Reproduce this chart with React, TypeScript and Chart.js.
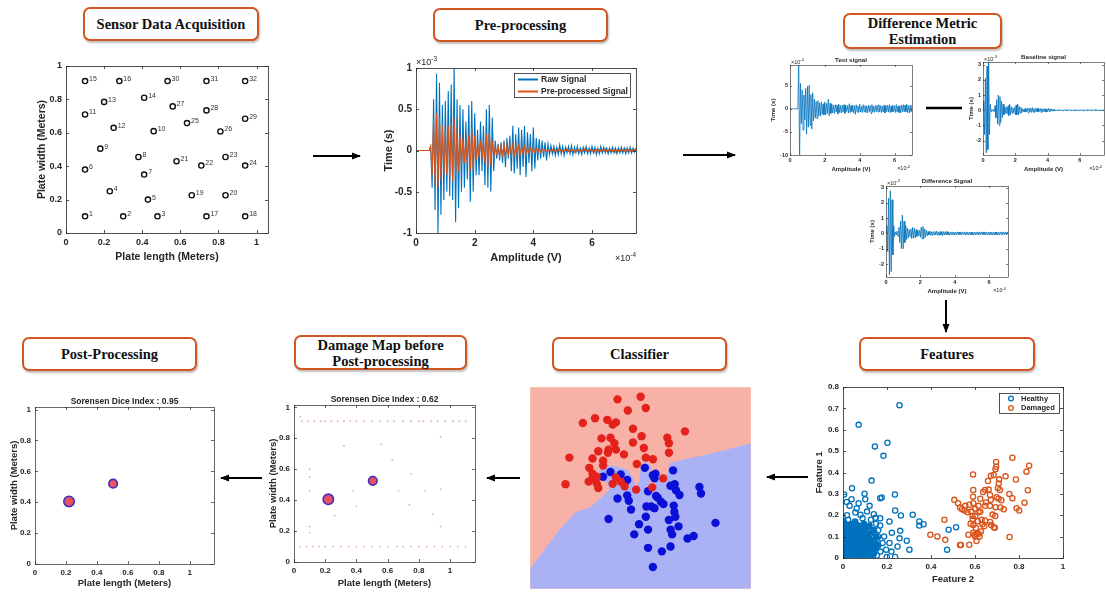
import React, { useEffect, useRef } from "react";
import { Chart, registerables } from "chart.js";
Chart.register(...registerables);

const SANS = "'Liberation Sans', Arial, sans-serif";
const SERIF = "'Liberation Serif', 'Times New Roman', serif";
const AX = "#262626";
const MBLUE = "#0072BD";
const MORANGE = "#D95319";

// ---------------- Sensor layout ----------------
const sensorIds = ["1","2","3","4","5","6","7","8","9","10","11","12","13","14","15","16","17","18","19","20","21","22","23","24","25","26","27","28","29","30","31","32"];
const sensorX = [0.10,0.30,0.48,0.23,0.43,0.10,0.41,0.38,0.18,0.46,0.10,0.25,0.20,0.41,0.10,0.28,0.737,0.94,0.66,0.837,0.58,0.71,0.837,0.94,0.635,0.81,0.56,0.737,0.94,0.533,0.737,0.94];
const sensorY = [0.10,0.10,0.10,0.25,0.20,0.38,0.35,0.455,0.505,0.61,0.71,0.63,0.785,0.81,0.91,0.91,0.10,0.10,0.226,0.226,0.43,0.404,0.455,0.404,0.658,0.608,0.758,0.734,0.684,0.91,0.91,0.91];

// ---------------- Pre-processing signals (x10^-3), sampled every 0.05 (x10^-4) ----------------
const preDt = 0.05;
const rawSignal = [
  0,0,0,0,0,0,0,0,0,0,
  0.05,-0.45,0.62,-0.72,0.93,-1.0,0.82,-0.78,0.55,-0.6,
  0.6,-0.5,0.72,-0.55,0.8,-0.6,1.0,-0.87,0.62,-0.7,
  0.55,-0.5,0.5,-0.45,0.35,-0.35,0.55,-0.62,0.6,-0.5,
  0.45,-0.3,0.25,-0.3,0.35,-0.25,0.3,-0.42,0.5,-0.45,
  0.55,-0.5,0.4,-0.25,0.12,-0.1,0.08,-0.12,0.1,-0.15,
  0.12,-0.2,0.15,-0.1,0.18,-0.25,0.3,-0.28,0.2,-0.22,
  0.28,-0.3,0.25,-0.2,0.3,-0.32,0.22,-0.15,0.2,-0.25,
  0.28,-0.22,0.15,-0.12,0.14,-0.1,0.12,-0.08,0.1,-0.12,
  0.08,
  -0.05,0.06,-0.04,0.05,-0.06,0.04,-0.05,0.07,-0.04,0.05,
  -0.06,0.04,-0.03,0.05,-0.04,0.06,-0.05,0.04,-0.03,0.05,
  -0.04,0.03,-0.05,0.04,-0.03,0.05,-0.04,0.03,-0.04,0.05,
  -0.03,0.04,-0.05,0.03,-0.04,0.05,-0.03,0.04,-0.03,0.03,
  -0.04,0.03,-0.03,0.04,-0.03,0.03,-0.04,0.03,-0.03,0.04,
  -0.03,0.03,-0.04,0.03,-0.03,0.04,-0.03,0.03,-0.02,0.03,
];
const processedSignal = [
  0,0,0,0,0,0,0,0,0,0,
  0.05,-0.3,0.38,-0.42,0.45,-0.45,0.4,-0.35,0.3,-0.28,
  0.25,-0.3,0.3,-0.32,0.35,-0.38,0.4,-0.3,0.28,-0.25,
  0.2,-0.18,0.15,-0.15,0.12,-0.15,0.2,-0.25,0.28,-0.22,
  0.18,-0.12,0.1,-0.08,0.12,-0.1,0.12,-0.15,0.2,-0.2,
  0.22,-0.18,0.12,-0.08,0.05,-0.04,0.05,-0.06,0.05,-0.06,
  0.08,-0.07,0.06,-0.05,0.06,-0.05,0.07,-0.06,0.05,-0.05,
  0.06,-0.04,0.05,-0.04,0.05,-0.04,0.03,-0.03,0.04,-0.03,
  0.03,-0.02,0.02,-0.02,0.02,-0.02,0.02,-0.01,0.01,-0.01,
  0.01,
  0.01,-0.01,0.01,-0.02,0.01,-0.01,0.02,-0.01,0.01,-0.01,
  0.01,-0.01,0.02,-0.01,0.01,-0.01,0.01,-0.02,0.01,-0.01,
  0.01,-0.01,0.01,-0.01,0.02,-0.01,0.01,-0.01,0.01,-0.01,
  0.01,-0.02,0.01,-0.01,0.01,-0.01,0.01,-0.01,0.02,-0.01,
  0.01,-0.01,0.01,-0.01,0.01,-0.02,0.01,-0.01,0.01,-0.01,
  0.01,-0.01,0.02,-0.01,0.01,-0.01,0.01,-0.01,0.01,-0.01,
];

// ---------------- Difference metric signals ----------------
const testSignal = [ // x10^-4
  0,0,0,0,0,0,0,0,0,0,
  11,-11,5.5,-3.2,4.1,-4.6,3.0,-2.4,4.4,-5.5,
  4.9,-4.0,5.1,-3.6,3.1,-4.4,3.5,-2.6,2.1,-2.0,
  1.6,-2.1,1.8,-1.5,1.3,-1.6,1.5,-1.2,1.1,-1.3,
  1.5,-1.3,1.2,-1.0,2.1,-1.5,1.2,-1.0,1.0,-0.9,
  0.8,-1.0,0.9,-0.7,0.8,-1.1,1.0,-0.8,0.7,-0.9,
  0.8,-0.7,0.9,-1.0,0.8,-0.6,0.7,-0.9,1.1,-0.8,
  0.7,-0.6,0.8,-0.9,0.7,-1.2,0.9,-0.7,0.6,-0.8,
  1.0,-0.7,0.6,-0.8,0.9,-0.6,0.7,-0.8,0.6,-0.9,
  0.8,-0.6,0.7,-1.0,0.9,-0.7,0.6,-0.8,0.7,-0.6,
  0.8,-0.7,0.9,-0.6,0.7,-0.8,0.6,-0.7,0.8,-0.9,
  0.7,-0.6,0.8,-0.7,0.9,-0.8,0.6,-0.7,0.8,-0.6,
  0.7,-0.8,0.9,-0.7,0.6,-0.8,0.7,-0.9,0.8,-0.6,
  0.9,-0.7,0.8,-0.6,1.0,-0.8,0.7,-0.9,0.8,-0.7,
  0.9,
];
const baselineSignal = [ // x10^-3
  0,0.6,-1.6,2.1,-2.8,2.9,-2.6,3.2,-1.6,0.4,
  -0.1,0.05,-0.05,0.05,-0.1,0.3,-0.5,0.7,-0.9,1.0,
  -1.0,0.9,-0.8,0.6,-0.5,0.4,-0.3,0.25,-0.2,0.2,
  -0.25,0.3,-0.35,0.4,-0.3,0.25,-0.2,0.15,-0.15,0.2,
  -0.3,0.35,-0.3,0.4,-0.3,0.25,-0.2,0.2,-0.15,0.1,
  -0.1,0.08,-0.12,0.15,-0.1,0.12,-0.18,0.15,-0.1,0.12,
  -0.15,0.18,-0.12,0.1,-0.15,0.12,-0.1,0.14,-0.12,0.1,
  -0.08,0.12,-0.14,0.1,-0.12,0.1,-0.08,0.1,-0.12,0.08,
  -0.1,0.12,-0.08,0.1,-0.07,0.08,-0.06,0.05,-0.05,0.04,
  -0.04,0.03,-0.04,0.03,-0.03,0.04,-0.03,0.03,-0.04,0.03,
  -0.03,0.04,-0.03,0.03,-0.04,0.03,-0.03,0.04,-0.03,0.03,
  -0.04,0.03,-0.03,0.03,-0.04,0.03,-0.03,0.04,-0.03,0.03,
  -0.03,0.04,-0.03,0.03,-0.04,0.03,-0.03,0.03,-0.04,0.03,
  -0.03,0.03,-0.04,0.03,-0.03,0.04,-0.03,0.03,-0.03,0.04,
  -0.03,0.03,-0.04,0.03,-0.03,0.03,-0.04,0.03,-0.03,0.03,
  -0.03,
];
const differenceSignal = [ // x10^-3
  0,0.5,-1.2,2.3,-2.7,2.8,-2.5,2.2,-1.4,0.5,
  -0.2,0.1,-0.1,0.15,-0.2,0.4,-0.6,0.8,-1.0,1.2,
  -1.0,0.8,-0.6,0.5,-0.4,0.35,-0.3,0.25,-0.2,0.3,
  -0.35,0.4,-0.3,0.35,-0.3,0.25,-0.2,0.2,-0.15,0.2,
  -0.25,0.4,-0.35,0.45,-0.35,0.3,-0.25,0.2,-0.15,0.12,
  -0.1,0.15,-0.12,0.1,-0.15,0.12,-0.1,0.12,-0.1,0.15,
  -0.12,0.1,-0.14,0.12,-0.1,0.12,-0.15,0.12,-0.1,0.12,
  -0.1,0.12,-0.1,0.08,-0.12,0.1,-0.08,0.1,-0.1,0.08,
  -0.1,0.08,-0.09,0.1,-0.08,0.09,-0.1,0.08,-0.09,0.1,
  -0.08,0.09,-0.08,0.1,-0.09,0.08,-0.1,0.09,-0.08,0.09,
  -0.1,0.08,-0.09,0.08,-0.1,0.09,-0.08,0.1,-0.09,0.08,
  -0.09,0.1,-0.08,0.09,-0.08,0.1,-0.09,0.08,-0.1,0.09,
  -0.08,0.09,-0.1,0.08,-0.09,0.08,-0.1,0.09,-0.08,0.1,
  -0.09,0.08,-0.1,0.09,-0.08,0.09,-0.08,0.1,-0.09,0.08,
  -0.09,0.1,-0.08,
];

// ---------------- Features ----------------
// dense healthy core
const healthyCoreX = [
  0.005,0.02,0.04,0.06,0.08,0.10,0.12,0.13,0.01,0.03,0.05,0.07,0.09,0.11,0.125,
  0.004,0.022,0.042,0.062,0.082,0.10,0.118,0.135,0.012,0.032,0.052,0.072,0.092,0.112,0.128,
  0.003,0.024,0.044,0.064,0.084,0.104,0.122,0.012,0.034,0.054,0.074,0.094,0.114,0.13,
  0.005,0.025,0.045,0.065,0.085,0.105,0.015,0.04,0.07,0.095,0.12,0.0,0.055,
  0.14,0.15,0.145,0.15,0.14,0.16,
];
const healthyCoreY = [
  0.01,0.005,0.008,0.004,0.01,0.006,0.008,0.012,0.03,0.025,0.03,0.028,0.032,0.027,0.035,
  0.05,0.052,0.048,0.055,0.05,0.053,0.05,0.055,0.072,0.07,0.075,0.07,0.074,0.07,0.078,
  0.092,0.095,0.09,0.096,0.092,0.095,0.09,0.115,0.112,0.118,0.113,0.117,0.112,0.12,
  0.135,0.138,0.133,0.14,0.135,0.14,0.155,0.158,0.152,0.16,0.15,0.17,0.17,
  0.02,0.045,0.07,0.1,0.13,0.06,
];
// sparse healthy points
const healthyX = [
  0.257,0.071,0.202,0.145,0.184,0.130,0.041,0.005,0.236,0.098,0.017,0.039,0.071,0.101,0.121,0.169,0.176,
  0.237,0.263,0.317,0.347,0.347,0.366,0.211,0.169,0.148,0.260,0.222,0.169,0.159,0.187,0.257,0.290,0.248,
  0.211,0.196,0.302,0.199,0.154,0.124,0.237,0.480,0.514,0.473,0.018,0.056,0.079,0.109,0.089,0.023,0.127,
  0.003,0.062,0.14,0.03,0.15,0.16,0.18,0.17,0.22,0.155,0.145,
];
const healthyY = [
  0.715,0.623,0.539,0.522,0.478,0.362,0.326,0.297,0.297,0.301,0.262,0.275,0.256,0.275,0.244,0.280,0.283,
  0.222,0.199,0.202,0.171,0.152,0.158,0.171,0.186,0.188,0.127,0.118,0.152,0.101,0.101,0.092,0.081,0.054,
  0.070,0.039,0.039,0.005,0.012,0.039,0.005,0.132,0.144,0.039,0.200,0.213,0.202,0.217,0.186,0.179,0.179,
  0.171,0.232,0.205,0.245,0.16,0.13,0.07,0.03,0.03,0.09,0.115,
];
const damagedX = [
  0.770,0.846,0.696,0.696,0.693,0.685,0.672,0.659,0.710,0.739,0.708,0.786,0.834,0.704,0.840,0.591,0.592,0.591,
  0.637,0.646,0.662,0.668,0.698,0.707,0.770,0.672,0.624,0.574,0.616,0.646,0.668,0.693,0.716,0.731,0.789,0.801,
  0.825,0.506,0.523,0.532,0.541,0.553,0.566,0.556,0.583,0.589,0.601,0.616,0.624,0.589,0.580,0.592,0.604,0.613,
  0.630,0.634,0.646,0.642,0.669,0.680,0.692,0.674,0.686,0.690,0.627,0.592,0.597,0.607,0.617,0.601,0.621,0.607,
  0.570,0.574,0.536,0.532,0.465,0.461,0.397,0.429,0.757,0.592,0.713,0.756,0.72,0.65,0.60,
];
const damagedY = [
  0.469,0.432,0.449,0.427,0.415,0.388,0.385,0.360,0.368,0.382,0.348,0.367,0.404,0.328,0.317,0.391,0.318,0.287,
  0.309,0.318,0.320,0.295,0.284,0.277,0.280,0.272,0.277,0.249,0.244,0.244,0.244,0.238,0.236,0.228,0.233,0.222,
  0.259,0.272,0.256,0.236,0.228,0.222,0.214,0.244,0.217,0.197,0.197,0.214,0.216,0.182,0.160,0.154,0.140,0.172,
  0.179,0.158,0.176,0.148,0.169,0.203,0.196,0.154,0.144,0.141,0.124,0.118,0.109,0.112,0.113,0.101,0.101,0.079,
  0.109,0.062,0.061,0.061,0.085,0.179,0.109,0.101,0.098,0.256,0.318,0.30,0.27,0.26,0.23,
];

// ---------------- Classifier (feature-space units) ----------------
const boundaryX = [18,60,110,160,205,245,265,258,228,238,275,322,338,346,358,362,378,395,390,400,410,418,432,445,452,500,560,620,705,705,18];
const boundaryY = [578,520,455,400,385,350,330,310,288,262,255,268,292,322,305,262,240,258,300,330,300,272,300,278,248,235,222,208,185,640,640];
const redX = [290,362,378,322,220,258,285,275,182,338,500,240,268,365,445,280,338,450,262,230,285,372,310,450,260,140,212,245,378,400,245,202,350,212,212,225,200,128,230,285,275,300,312,348,398,432,225];
const redY = [48,40,75,83,107,112,120,127,122,140,148,170,168,163,168,185,183,185,205,210,205,200,220,215,215,230,233,240,230,235,255,262,250,280,295,310,305,313,325,292,312,305,320,330,323,295,290];
const blueX = [268,245,300,320,375,400,408,463,405,455,468,545,550,385,410,320,290,325,472,483,415,425,433,380,395,405,465,332,467,470,262,378,357,450,480,385,455,342,460,595,508,527,385,428,455,400];
const blueY = [275,290,283,300,262,285,280,270,295,318,313,322,342,335,350,348,358,365,332,347,355,368,375,383,383,388,380,392,400,415,422,415,438,425,445,455,455,470,470,434,483,475,512,523,508,572];

// ---------------- Damage maps ----------------
const damageX = [0.22,0.505];
const damageY = [0.405,0.525];
const damageR = [5.2,4.3];
const noiseX = [0.05,0.09,0.13,0.17,0.2,0.24,0.28,0.32,0.36,0.4,0.45,0.5,0.55,0.6,0.64,0.7,0.75,0.8,0.83,0.88,0.92,0.97,1.02,1.06,1.1,
  0.04,0.08,0.12,0.16,0.2,0.25,0.3,0.35,0.4,0.45,0.5,0.55,0.6,0.66,0.7,0.75,0.8,0.85,0.9,0.95,1.0,1.05,1.1,
  0.04,0.1,0.1,0.1,0.1,0.1,0.32,0.56,0.63,0.75,0.67,0.84,0.94,0.4,0.74,0.89,0.26,0.38,0.94,0.94];
const noiseY = [0.91,0.91,0.91,0.91,0.91,0.91,0.91,0.91,0.91,0.91,0.91,0.91,0.91,0.91,0.91,0.91,0.91,0.91,0.91,0.91,0.91,0.91,0.91,0.91,0.91,
  0.10,0.10,0.10,0.10,0.10,0.10,0.10,0.10,0.10,0.10,0.10,0.10,0.10,0.10,0.10,0.10,0.10,0.10,0.10,0.10,0.10,0.10,0.10,
  0.94,0.6,0.55,0.46,0.23,0.19,0.75,0.76,0.66,0.57,0.46,0.46,0.47,0.36,0.37,0.31,0.3,0.46,0.81,0.23];
const postX = [0.22,0.505];
const postY = [0.405,0.52];

// ---------------- helpers ----------------
const toXY = (v: number[], dt: number) => v.map((y, i) => ({ x: Math.round(i * dt * 1000) / 1000, y }));
const zipXY = (xs: number[], ys: number[]) => xs.map((x, i) => ({ x, y: ys[i] }));
const fmt = (v: number) => String(Math.round(v * 1000) / 1000);

type Geo = { yFit: number; xFit: number; top: number; right: number };
type Spec = { cx: number; cy: number; cw: number; ch: number; pl: number; pt: number; pr: number; pb: number };

const mkScale = (axis: "x" | "y", o: { min: number; max: number; step: number; size: number; fit: number; title?: string; tsize?: number; pad?: number }) => ({
  type: "linear",
  position: axis === "x" ? "bottom" : "left",
  min: o.min,
  max: o.max,
  ticks: { stepSize: o.step, includeBounds: false, autoSkip: false, maxRotation: 0, minRotation: 0, color: AX, padding: o.pad ?? 4, font: { family: SANS, size: o.size, weight: "bold" }, callback: (v: any) => fmt(Number(v)) },
  grid: { display: false, drawTicks: false },
  border: { display: false },
  title: { display: !!o.title, text: o.title || "", color: AX, padding: 0, font: { family: SANS, size: o.tsize || o.size, weight: "bold" } },
  afterFit: (s: any) => { if (axis === "x") s.height = o.fit; else s.width = o.fit; },
});

const baseOpts = (g: Geo, x: any, y: any) => ({
  responsive: false,
  animation: false,
  events: [],
  layout: { padding: { top: g.top, right: g.right, left: 0, bottom: 0 } },
  plugins: { legend: { display: false }, tooltip: { enabled: false }, title: { display: false } },
  scales: { x, y },
});

const boxPlugin = (tl: number, lw = 0.8) => ({
  id: "matbox",
  afterDatasetsDraw(chart: any) {
    const { ctx, chartArea: a, scales } = chart;
    ctx.save();
    ctx.strokeStyle = AX;
    ctx.lineWidth = lw;
    ctx.strokeRect(Math.round(a.left) + 0.5, Math.round(a.top) + 0.5, Math.round(a.right - a.left), Math.round(a.bottom - a.top));
    ctx.beginPath();
    for (const t of scales.x.ticks) {
      const px = Math.round(scales.x.getPixelForValue(t.value)) + 0.5;
      ctx.moveTo(px, a.bottom); ctx.lineTo(px, a.bottom - tl);
      ctx.moveTo(px, a.top); ctx.lineTo(px, a.top + tl);
    }
    for (const t of scales.y.ticks) {
      const py = Math.round(scales.y.getPixelForValue(t.value)) + 0.5;
      ctx.moveTo(a.left, py); ctx.lineTo(a.left + tl, py);
      ctx.moveTo(a.right, py); ctx.lineTo(a.right - tl, py);
    }
    ctx.stroke();
    ctx.restore();
  },
});

type Anno = { text: string; exp?: string; at: string; dx: number; dy: number; size: number; bold?: boolean; align?: "left" | "right" | "center" };
const annoPlugin = (items: Anno[]) => ({
  id: "anno",
  afterDraw(chart: any) {
    const { ctx, chartArea: a } = chart;
    ctx.save();
    ctx.fillStyle = AX;
    for (const it of items) {
      let x = it.at[1] === "l" ? a.left : it.at[1] === "r" ? a.right : (a.left + a.right) / 2;
      let y = it.at[0] === "t" ? a.top : a.bottom;
      x += it.dx; y += it.dy;
      const f1 = `${it.bold ? "bold " : ""}${it.size}px ${SANS}`;
      if (it.exp) {
        const f2 = `${it.size * 0.72}px ${SANS}`;
        ctx.font = f1; const w1 = ctx.measureText(it.text).width;
        ctx.font = f2; const w2 = ctx.measureText(it.exp).width;
        const x0 = it.align === "right" ? x - w1 - w2 : x;
        ctx.textAlign = "left"; ctx.textBaseline = "alphabetic";
        ctx.font = f1; ctx.fillText(it.text, x0, y);
        ctx.font = f2; ctx.fillText(it.exp, x0 + w1, y - it.size * 0.45);
      } else {
        ctx.font = f1; ctx.textAlign = it.align || "center"; ctx.textBaseline = "middle";
        ctx.fillText(it.text, x, y);
      }
    }
    ctx.restore();
  },
});

const labelPlugin = (labels: string[]) => ({
  id: "plabels",
  afterDatasetsDraw(chart: any) {
    const { ctx } = chart;
    const meta = chart.getDatasetMeta(0);
    ctx.save();
    ctx.font = `7px ${SANS}`;
    ctx.fillStyle = "#333";
    ctx.textAlign = "left";
    ctx.textBaseline = "middle";
    meta.data.forEach((p: any, i: number) => ctx.fillText(labels[i], p.x + 4, p.y - 2));
    ctx.restore();
  },
});

const legendPlugin = (o: { dxr: number; dyt: number; w: number; h: number; rows: number[]; markX: number; textX: number; size: number; kind: "line" | "circle" }) => ({
  id: "mlegend",
  afterDraw(chart: any) {
    const { ctx, chartArea: a } = chart;
    const L = a.right - o.dxr - o.w, T = a.top + o.dyt;
    ctx.save();
    ctx.fillStyle = "#fff";
    ctx.fillRect(L, T, o.w, o.h);
    ctx.strokeStyle = AX; ctx.lineWidth = 0.8;
    ctx.strokeRect(L + 0.5, T + 0.5, o.w, o.h);
    o.rows.forEach((ry, i) => {
      const ds = chart.data.datasets[i];
      const y = T + ry;
      ctx.strokeStyle = ds.borderColor;
      if (o.kind === "line") {
        ctx.lineWidth = 2;
        ctx.beginPath(); ctx.moveTo(L + 4, y); ctx.lineTo(L + o.markX, y); ctx.stroke();
      } else {
        ctx.lineWidth = 1.3;
        ctx.beginPath(); ctx.arc(L + o.markX, y, 2.4, 0, Math.PI * 2); ctx.stroke();
      }
      ctx.fillStyle = AX;
      ctx.font = `bold ${o.size}px ${SANS}`;
      ctx.textAlign = "left"; ctx.textBaseline = "middle";
      ctx.fillText(ds.label, L + o.textX, y);
    });
    ctx.restore();
  },
});

const bgPlugin = (color: string) => ({
  id: "bg",
  beforeDatasetsDraw(chart: any) {
    const { ctx, chartArea: a } = chart;
    ctx.save(); ctx.fillStyle = color; ctx.fillRect(a.left, a.top, a.right - a.left, a.bottom - a.top); ctx.restore();
  },
});

// ---------------- chart configs ----------------
const sensorChart = (g: Geo) => ({
  type: "scatter",
  data: { datasets: [{ data: zipXY(sensorX, sensorY), pointRadius: 2.6, borderWidth: 1.4, borderColor: "#111", backgroundColor: "#fff" }] },
  options: baseOpts(g,
    mkScale("x", { min: 0, max: 1.06, step: 0.2, size: 9, fit: g.xFit, title: "Plate length (Meters)", tsize: 10.5 }),
    mkScale("y", { min: 0, max: 1, step: 0.2, size: 9, fit: g.yFit, title: "Plate width (Meters)", tsize: 10.5 })),
  plugins: [boxPlugin(3), labelPlugin(sensorIds)],
});

const signalDs = (label: string, v: number[], dt: number, color: string, order: number, bw = 1) => ({
  label, data: toXY(v, dt), borderColor: color, backgroundColor: color, borderWidth: bw, pointRadius: 0, tension: 0, fill: false, order,
});

const preChart = (g: Geo) => ({
  type: "line",
  data: { datasets: [signalDs("Raw Signal", rawSignal, preDt, MBLUE, 2, 1.1), signalDs("Pre-processed Signal", processedSignal, preDt, MORANGE, 1, 1.1)] },
  options: baseOpts(g,
    mkScale("x", { min: 0, max: 7.5, step: 2, size: 10, fit: g.xFit, title: "Amplitude (V)", tsize: 11 }),
    mkScale("y", { min: -1, max: 1, step: 0.5, size: 10, fit: g.yFit, title: "Time (s)", tsize: 11 })),
  plugins: [boxPlugin(3), annoPlugin([
    { text: "\u00d710", exp: "-3", at: "tl", dx: 0, dy: -3, size: 9 },
    { text: "\u00d710", exp: "-4", at: "br", dx: 0, dy: 28, size: 9, align: "right" },
  ]), legendPlugin({ dxr: 6, dyt: 5, w: 116, h: 24, rows: [6.5, 18.5], markX: 24, textX: 27, size: 8.5, kind: "line" })],
});

const smallChart = (g: Geo, title: string, v: number[], xmax: number, ymin: number, ymax: number, ystep: number, exp: string) => ({
  type: "line",
  data: { datasets: [signalDs(title, v, 0.05, MBLUE, 1, 0.8)] },
  options: baseOpts(g,
    mkScale("x", { min: 0, max: xmax, step: 2, size: 5.5, fit: g.xFit, title: "Amplitude (V)", tsize: 6, pad: 2 }),
    mkScale("y", { min: ymin, max: ymax, step: ystep, size: 5.5, fit: g.yFit, title: "Time (s)", tsize: 6, pad: 2 })),
  plugins: [boxPlugin(2, 0.6), annoPlugin([
    { text: title, at: "tc", dx: 0, dy: -5, size: 6.2, bold: true },
    { text: "\u00d710", exp, at: "tl", dx: 1, dy: -1.5, size: 5.5 },
    { text: "\u00d710", exp: "-4", at: "br", dx: -2, dy: 15, size: 5.5, align: "right" },
  ])],
});

const featureChart = (g: Geo) => ({
  type: "scatter",
  data: { datasets: [
    { label: "Healthy", data: zipXY(healthyX, healthyY), pointRadius: 2.6, borderWidth: 1.3, borderColor: MBLUE, backgroundColor: "rgba(0,0,0,0)" },
    { label: "Damaged", data: zipXY(damagedX, damagedY), pointRadius: 2.6, borderWidth: 1.3, borderColor: MORANGE, backgroundColor: "rgba(0,0,0,0)" },
    { label: "Healthy", data: zipXY(healthyCoreX, healthyCoreY), pointRadius: 2.7, borderWidth: 1.3, borderColor: MBLUE, backgroundColor: MBLUE },
  ] },
  options: baseOpts(g,
    mkScale("x", { min: 0, max: 1, step: 0.2, size: 8, fit: g.xFit, title: "Feature 2", tsize: 9.5 }),
    mkScale("y", { min: 0, max: 0.8, step: 0.1, size: 8, fit: g.yFit, title: "Feature 1", tsize: 9.5 })),
  plugins: [boxPlugin(3), legendPlugin({ dxr: 4, dyt: 6, w: 60, h: 20, rows: [5.5, 15], markX: 12, textX: 22, size: 7.5, kind: "circle" })],
});

const classifierChart = (g: Geo) => ({
  type: "scatter",
  data: { datasets: [
    { data: zipXY(redX, redY), pointRadius: 4.2, borderWidth: 0, backgroundColor: "#e3221c", order: 1 },
    { data: zipXY(blueX, blueY), pointRadius: 4.2, borderWidth: 0, backgroundColor: "#0b10d6", order: 2 },
    { data: zipXY(boundaryX, boundaryY), showLine: true, fill: "shape", pointRadius: 0, borderWidth: 0, borderColor: "#aab1f5", backgroundColor: "#aab1f5", order: 10 },
  ] },
  options: {
    responsive: false, animation: false, events: [],
    layout: { padding: 0 },
    plugins: { legend: { display: false }, tooltip: { enabled: false } },
    scales: {
      x: { type: "linear", display: false, min: 18, max: 705 },
      y: { type: "linear", display: false, min: 10, max: 640, reverse: true },
    },
  },
  plugins: [bgPlugin("#f7b1a6")],
});

const mapChart = (g: Geo, title: string, xs: number[], ys: number[], xmax: number, ymax: number, noise: boolean) => {
  const datasets: any[] = [
    { data: zipXY(xs, ys), pointRadius: damageR, borderWidth: 1.6, borderColor: "#3b2fc0", backgroundColor: "#e9525e", order: 1 },
  ];
  if (noise) datasets.push({ data: zipXY(noiseX, noiseY), pointRadius: 0.9, borderWidth: 0, backgroundColor: "rgba(190,70,80,0.45)", order: 2 });
  return {
    type: "scatter",
    data: { datasets },
    options: baseOpts(g,
      mkScale("x", { min: 0, max: xmax, step: 0.2, size: 8, fit: g.xFit, title: "Plate length (Meters)", tsize: 9.5 }),
      mkScale("y", { min: 0, max: ymax, step: 0.2, size: 8, fit: g.yFit, title: "Plate width (Meters)", tsize: 9.5 })),
    plugins: [boxPlugin(3, 0.7), annoPlugin([{ text: title, at: "tc", dx: 0, dy: -5, size: 8.5, bold: true }])],
  };
};

// ---------------- components ----------------
function Plot({ s, make }: { s: Spec; make: (g: Geo) => any }) {
  const ref = useRef<HTMLCanvasElement | null>(null);
  useEffect(() => {
    const g: Geo = { yFit: s.pl - s.cx, xFit: s.cy + s.ch - s.pb, top: s.pt - s.cy, right: s.cx + s.cw - s.pr };
    const chart = new Chart(ref.current as HTMLCanvasElement, make(g));
    return () => chart.destroy();
  }, []);
  return <canvas ref={ref} width={s.cw} height={s.ch} style={{ position: "absolute", left: s.cx, top: s.cy, width: s.cw, height: s.ch }} />;
}

function TitleBox({ l, t, w, h, lines }: { l: number; t: number; w: number; h: number; lines: string[] }) {
  return (
    <div style={{
      position: "absolute", left: l, top: t, width: w, height: h, boxSizing: "border-box",
      border: "2.5px solid #d2561f", borderRadius: 7, background: "#fff",
      display: "flex", flexDirection: "column", alignItems: "center", justifyContent: "center",
      fontFamily: SERIF, fontWeight: "bold", fontSize: 14.5, lineHeight: "16px", color: "#111",
      boxShadow: "1px 2px 2px rgba(0,0,0,0.25)", whiteSpace: "nowrap",
    }}>
      {lines.map((ln) => <div key={ln}>{ln}</div>)}
    </div>
  );
}

const S = (cx: number, cy: number, cr: number, cb: number, pl: number, pt: number, pr: number, pb: number): Spec =>
  ({ cx, cy, cw: cr - cx, ch: cb - cy, pl, pt, pr, pb });

export default function App() {
  return (
    <div style={{ position: "absolute", left: 0, top: 0, width: 1106, height: 595, background: "#fff", overflow: "hidden" }}>
      <svg width={1106} height={595} style={{ position: "absolute", left: 0, top: 0 }}>
        <defs>
          <marker id="ah" markerWidth="9" markerHeight="8" refX="8" refY="4" orient="auto" markerUnits="userSpaceOnUse">
            <path d="M0,0.5 L9,4 L0,7.5 Z" fill="#000" />
          </marker>
        </defs>
        <line x1={313} y1={156} x2={360} y2={156} stroke="#000" strokeWidth={2} markerEnd="url(#ah)" />
        <line x1={683} y1={155} x2={735} y2={155} stroke="#000" strokeWidth={2} markerEnd="url(#ah)" />
        <line x1={946} y1={300} x2={946} y2={332} stroke="#000" strokeWidth={2} markerEnd="url(#ah)" />
        <line x1={808} y1={477} x2={767} y2={477} stroke="#000" strokeWidth={2} markerEnd="url(#ah)" />
        <line x1={520} y1={478} x2={487} y2={478} stroke="#000" strokeWidth={2} markerEnd="url(#ah)" />
        <line x1={262} y1={478} x2={221} y2={478} stroke="#000" strokeWidth={2} markerEnd="url(#ah)" />
        <line x1={926} y1={108} x2={962} y2={108} stroke="#000" strokeWidth={2.5} />
      </svg>

      <TitleBox l={83} t={7} w={176} h={34} lines={["Sensor Data Acquisition"]} />
      <TitleBox l={433} t={8} w={175} h={34} lines={["Pre-processing"]} />
      <TitleBox l={843} t={13} w={159} h={36} lines={["Difference Metric", "Estimation"]} />
      <TitleBox l={22} t={337} w={175} h={34} lines={["Post-Processing"]} />
      <TitleBox l={294} t={335} w={173} h={35} lines={["Damage Map before", "Post-processing"]} />
      <TitleBox l={552} t={337} w={175} h={34} lines={["Classifier"]} />
      <TitleBox l={859} t={337} w={176} h={34} lines={["Features"]} />

      <Plot s={S(36, 55, 275, 263, 66, 66, 268, 233)} make={sensorChart} />
      <Plot s={S(382, 55, 650, 265, 416, 68, 636, 233)} make={preChart} />
      <Plot s={S(770, 50, 922, 173, 790, 65, 912, 155)} make={(g) => smallChart(g, "Test signal", testSignal, 7, -10, 9.5, 5, "-4")} />
      <Plot s={S(968, 50, 1106, 173, 983, 62, 1104, 155)} make={(g) => smallChart(g, "Baseline signal", baselineSignal, 7.5, -2.95, 3.18, 1, "-3")} />
      <Plot s={S(869, 172, 1020, 295, 886, 186, 1008, 277)} make={(g) => smallChart(g, "Difference Signal", differenceSignal, 7.1, -2.85, 3.1, 1, "-3")} />
      <Plot s={S(814, 378, 1075, 585, 843, 387, 1063, 558)} make={featureChart} />
      <Plot s={S(526, 383, 755, 593, 526, 383, 755, 593)} make={classifierChart} />
      <Plot s={S(268, 392, 485, 589, 294, 405, 475, 562)} make={(g) => mapChart(g, "Sorensen Dice Index : 0.62", damageX, damageY, 1.16, 1.015, true)} />
      <Plot s={S(9, 394, 225, 589, 35, 407, 214, 564)} make={(g) => mapChart(g, "Sorensen Dice Index : 0.95", postX, postY, 1.157, 1.017, false)} />
    </div>
  );
}
